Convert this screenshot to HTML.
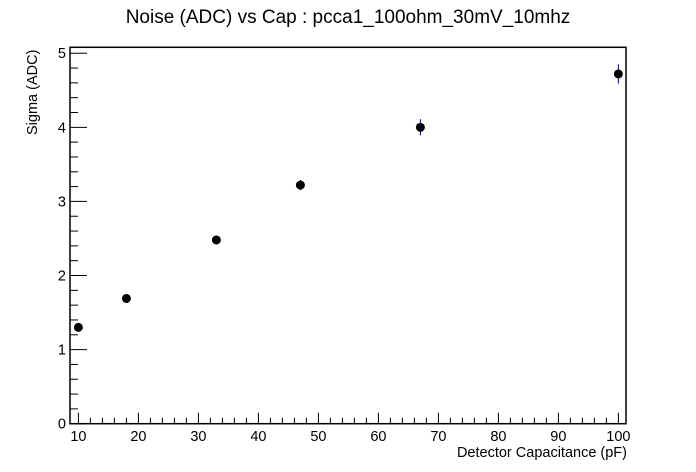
<!DOCTYPE html>
<html><head><meta charset="utf-8"><style>
html,body{margin:0;padding:0;background:#fff;}
svg{display:block;font-family:"Liberation Sans",Arial,sans-serif;}
</style></head><body>
<svg id="chart" width="696" height="472" viewBox="0 0 696 472">
<rect width="696" height="472" fill="#fff"/>
<text x="348" y="23" text-anchor="middle" font-size="19" fill="#000">Noise (ADC) vs Cap : pcca1_100ohm_30mV_10mhz</text>
<text x="627" y="457" text-anchor="end" font-size="14.5" fill="#000">Detector Capacitance (pF)</text>
<text transform="translate(37,135) rotate(-90)" text-anchor="start" font-size="14.5" fill="#000">Sigma (ADC)</text>
<g id="axes"></g>
<g id="marks"></g>
<rect x="70" y="47.3" width="556" height="376.4" fill="none" stroke="#000" stroke-width="1.5"/>
</svg>
<script>
const capacitances = [10, 18, 33, 47, 67, 100];
const sigmaValues = [1.30, 1.69, 2.48, 3.22, 4.00, 4.72];
const sigmaErrors = [0.04, 0.04, 0.04, 0.07, 0.11, 0.13];
const xTickLabels = [10, 20, 30, 40, 50, 60, 70, 80, 90, 100];
const yTickLabels = [0, 1, 2, 3, 4, 5];

const X0 = 70, X1 = 626, Y0 = 423.7, Y1 = 47.3;
const xMin = 8.6, xMax = 101.27, yMin = 0, yMax = 5.08;
const xs = v => X0 + (v - xMin) / (xMax - xMin) * (X1 - X0);
const ys = v => Y0 - (v - yMin) / (yMax - yMin) * (Y0 - Y1);
const NS = 'http://www.w3.org/2000/svg';
const axes = document.getElementById('axes');
const marks = document.getElementById('marks');
function mk(tag, attrs, parent) {
  const e = document.createElementNS(NS, tag);
  for (const k in attrs) e.setAttribute(k, attrs[k]);
  parent.appendChild(e);
  return e;
}
for (let v = 10; v <= 100.01; v += 2) {
  const major = Math.abs(v % 10) < 1e-6;
  const t = mk('line', {x1: xs(v), x2: xs(v), y1: Y0, y2: Y0 - (major ? 11 : 6), stroke: '#000', 'stroke-width': 1}, axes);
  
  
}
xTickLabels.forEach(v => {
  const t = mk('text', {x: xs(v), y: 441, 'text-anchor': 'middle', 'font-size': 14.5, fill: '#000'}, axes);
  t.textContent = v;
  
  
});
for (let i = 0; i <= 25; i++) {
  const v = i * 0.2;
  const major = i % 5 === 0;
  const t = mk('line', {x1: X0, x2: X0 + (major ? 17 : 8), y1: ys(v), y2: ys(v), stroke: '#000', 'stroke-width': 1}, axes);
  
  
}
yTickLabels.forEach(v => {
  const t = mk('text', {x: 66, y: ys(v) + 5, 'text-anchor': 'end', 'font-size': 14.5, fill: '#000'}, axes);
  t.textContent = v;
  
  
});
capacitances.forEach((c, i) => {
  const cx = xs(c), cy = ys(sigmaValues[i]);
  const e = mk('line', {x1: cx, x2: cx, y1: ys(sigmaValues[i] + sigmaErrors[i]), y2: ys(sigmaValues[i] - sigmaErrors[i]), stroke: '#00008b', 'stroke-width': 1}, marks);
  
  
  const p = mk('circle', {cx: cx, cy: cy, r: 4.5, fill: '#000'}, marks);
  
  
});
</script>
</body></html>
